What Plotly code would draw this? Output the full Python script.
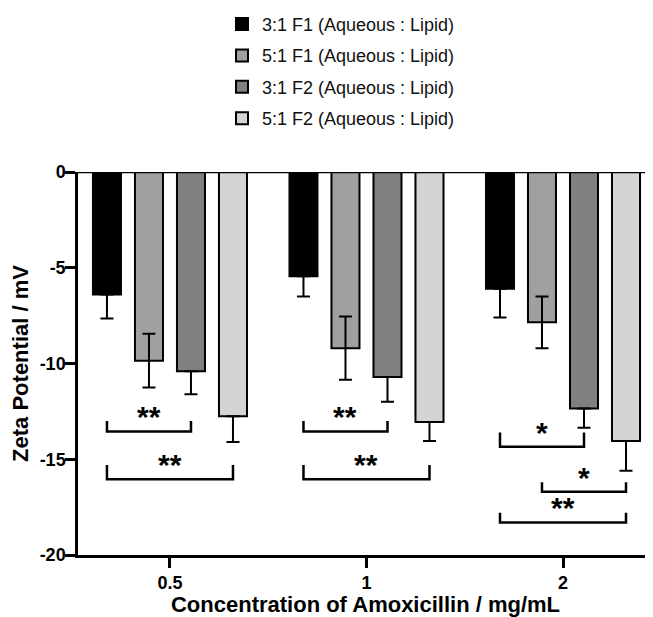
import plotly.graph_objects as go

# ---- data ----
concentrations = ["0.5", "1", "2"]
series_names = [
    "3:1 F1 (Aqueous : Lipid)",
    "5:1 F1 (Aqueous : Lipid)",
    "3:1 F2 (Aqueous : Lipid)",
    "5:1 F2 (Aqueous : Lipid)",
]
f1_3to1 = [-6.4, -5.45, -6.1]
f1_3to1_sd = [1.25, 1.05, 1.5]
f1_5to1 = [-9.85, -9.2, -7.85]
f1_5to1_sd = [1.4, 1.65, 1.35]
f2_3to1 = [-10.4, -10.7, -12.35]
f2_3to1_sd = [1.2, 1.3, 1.0]
f2_5to1 = [-12.75, -13.05, -14.05]
f2_5to1_sd = [1.35, 1.0, 1.55]
y_ticks = [0, -5, -10, -15, -20]
y_tick_labels = ["0", "-5", "-10", "-15", "-20"]

# significance comparisons: (group index, bar a, bar b, bracket level, label)
comparisons = [
    (0, 0, 2, -13.55, "**"),
    (0, 0, 3, -16.05, "**"),
    (1, 0, 2, -13.55, "**"),
    (1, 0, 3, -16.05, "**"),
    (2, 0, 2, -14.35, "*"),
    (2, 1, 3, -16.7, "*"),
    (2, 0, 3, -18.3, "**"),
]
bracket_tick = [0.55, 0.75, 0.55, 0.75, 0.75, 0.5, 0.5]

values = [f1_3to1, f1_5to1, f2_3to1, f2_5to1]
sds = [f1_3to1_sd, f1_5to1_sd, f2_3to1_sd, f2_5to1_sd]
colors = ["#000000", "#a0a0a0", "#808080", "#d4d4d4"]
symmetric = [False, True, False, False]

FONT = "Liberation Sans, Arial, sans-serif"
xpos = list(range(len(concentrations)))
bargap = 0.145
bargroupgap = 0.333

fig = go.Figure()
for i in range(4):
    if symmetric[i]:
        err = dict(type="data", array=sds[i], symmetric=True)
    else:
        err = dict(type="data", array=[0] * len(sds[i]), arrayminus=sds[i], symmetric=False)
    err.update(color="black", thickness=2, width=6.5, visible=True)
    fig.add_trace(go.Bar(
        x=xpos, y=values[i], name=series_names[i],
        marker=dict(color=colors[i], line=dict(color="black", width=2)),
        error_y=err, legendgroup=f"g{i}",
    ))

slot = (1 - bargap) / 4
shapes = []
annotations = []
for (g, a, b, lvl, lab), th in zip(comparisons, bracket_tick):
    xa = g + (a - 1.5) * slot
    xb = g + (b - 1.5) * slot
    path = f"M {xa},{lvl + th} L {xa},{lvl} L {xb},{lvl} L {xb},{lvl + th}"
    shapes.append(dict(type="path", path=path, xref="x", yref="y",
                       line=dict(color="black", width=2.5)))
    annotations.append(dict(x=(xa + xb) / 2, y=lvl, xref="x", yref="y",
                            text=f"<b>{lab}</b>", showarrow=False,
                            yanchor="bottom", yshift=-4,
                            font=dict(family=FONT, size=30, color="black")))

# zero line at top
shapes.append(dict(type="line", xref="paper", x0=0, x1=1, yref="y", y0=0, y1=0,
                   line=dict(color="black", width=2.5)))

fig.update_layout(
    width=645, height=609,
    margin=dict(l=70, r=0, t=164, b=62, autoexpand=False),
    plot_bgcolor="white", paper_bgcolor="white",
    barmode="group", bargap=bargap, bargroupgap=bargroupgap,
    font=dict(family=FONT, color="black"),
    shapes=shapes, annotations=annotations,
    legend=dict(x=0.2504, y=1.434, xanchor="left", yanchor="top",
                font=dict(family=FONT, size=18, color="#111"),
                tracegroupgap=5, bgcolor="rgba(0,0,0,0)"),
    xaxis=dict(
        range=[-0.468, 2.458], tickvals=xpos, ticktext=concentrations,
        showline=True, linecolor="black", linewidth=2.5,
        ticks="outside", ticklen=10, tickwidth=2.5, tickcolor="black",
        tickfont=dict(family=FONT, size=18, color="black", weight="bold"),
        showgrid=False, zeroline=False,
        title=dict(text="<b>Concentration of Amoxicillin / mg/mL</b>",
                   font=dict(family=FONT, size=22, color="black"), standoff=2),
    ),
    yaxis=dict(
        range=[-20, 0], tickvals=y_ticks, ticktext=y_tick_labels,
        showline=True, linecolor="black", linewidth=2.5,
        ticks="outside", ticklen=10, tickwidth=2.5, tickcolor="black",
        ticklabelstandoff=-4,
        tickfont=dict(family=FONT, size=18, color="black", weight="bold"),
        showgrid=False, zeroline=False,
        title=dict(text="<b>Zeta Potential / mV</b>",
                   font=dict(family=FONT, size=22, color="black"), standoff=7),
    ),
)

fig.write_html("out.html")
